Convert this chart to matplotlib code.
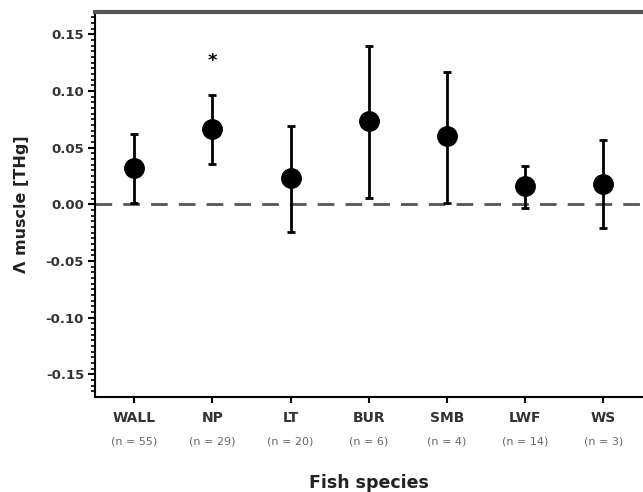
import matplotlib.pyplot as plt
import matplotlib.transforms as mtransforms
import numpy as np

species = ['WALL', 'NP', 'LT', 'BUR', 'SMB', 'LWF', 'WS']
n_labels = ['(n = 55)', '(n = 29)', '(n = 20)', '(n = 6)', '(n = 4)', '(n = 14)', '(n = 3)']
means = [0.032, 0.067, 0.023, 0.074, 0.060, 0.016, 0.018]
upper = [0.062, 0.097, 0.069, 0.140, 0.117, 0.034, 0.057]
lower = [0.001, 0.036, -0.024, 0.006, 0.001, -0.003, -0.021]
star_y = 0.127

x = np.arange(len(species))
means = np.array(means)
yerr = [means - np.array(lower), np.array(upper) - means]

fig = plt.figure(figsize=(6.43, 4.92), dpi=100)
ax = fig.add_axes([0.148, 0.193, 0.851, 0.783])

ax.axhline(0, color='#555555', lw=2, dashes=(6, 4), zorder=1)
ax.errorbar(x, means, yerr=yerr, fmt='o', color='black', ms=14,
            elinewidth=2, capsize=3, capthick=2, zorder=3)
ax.text(1, star_y, '*', ha='center', va='center', fontsize=13, fontweight='bold')

ax.set_xlim(-0.5, 6.5)
ax.set_ylim(-0.17, 0.17)
ax.set_yticks([-0.15, -0.10, -0.05, 0.00, 0.05, 0.10, 0.15])
ax.set_yticklabels(['-0.15', '-0.10', '-0.05', '0.00', '0.05', '0.10', '0.15'],
                   fontsize=9.5, fontweight='bold', color='#333333')
ax.set_yticks(np.arange(-0.165, 0.17, 0.005), minor=True)
ax.tick_params(axis='y', which='major', length=5, width=1.5, direction='out', pad=3)
ax.tick_params(axis='y', which='minor', length=3, width=1.2, direction='out')
ax.set_xticks(x)
ax.set_xticklabels([])
ax.tick_params(axis='x', length=4, width=1.5, direction='out')

trans = mtransforms.blended_transform_factory(ax.transData, fig.transFigure)
for xi, name, nl in zip(x, species, n_labels):
    ax.text(xi, 1 - 418 / 492, name, transform=trans, ha='center', va='center',
            fontsize=10, fontweight='bold', color='#333333')
    ax.text(xi, 1 - 441 / 492, nl, transform=trans, ha='center', va='center',
            fontsize=8, color='#666666')

fig.text(0.5 + 0.148 / 2, 1 - 483 / 492, 'Fish species', ha='center', va='center',
         fontsize=12.5, fontweight='bold', color='#222222')
ax.set_ylabel('Λ muscle [THg]', fontsize=11.5, fontweight='bold', color='#222222',
              labelpad=12)

ax.spines['top'].set_linewidth(3)
ax.spines['top'].set_color('#555555')
ax.spines['left'].set_linewidth(1.5)
ax.spines['bottom'].set_linewidth(1.5)
ax.spines['right'].set_visible(False)

plt.savefig('out.png', dpi=100)
plt.close()
